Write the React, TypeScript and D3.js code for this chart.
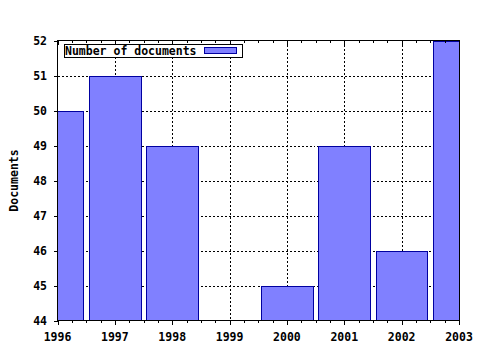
import React from "react";
import * as d3 from "d3";

const years = [1996, 1997, 1998, 1999, 2000, 2001, 2002, 2003];
const documents = [50, 51, 49, 44, 45, 49, 46, 52];
const yTicks = [44, 45, 46, 47, 48, 49, 50, 51, 52];
const seriesName = "Number of documents";
const yTitle = "Documents";

const W = 480, H = 350;
const L = 57.5, R = 459, T = 40.5, B = 320.5;
const FONT = "'DejaVu Sans Mono', 'Liberation Mono', monospace";
const FILL = "#8080ff";
const STROKE = "#0000a0";

export default function App() {
  const x = d3.scaleLinear().domain([1996, 2003]).range([L, R]);
  const y = d3.scaleLinear().domain([44, 52]).range([B, T]);
  const step = x(1997) - x(1996);
  const bw = step * 0.9;
  const minor: number[] = [];
  for (let i = 0; i < years.length - 1; i++) {
    for (let k = 1; k < 4; k++) minor.push(years[i] + k / 4);
  }
  return (
    <svg width={W} height={H} style={{ position: "absolute", left: 0, top: 0, background: "#fff" }}>
      <defs>
        <clipPath id="plot">
          <rect x={L} y={T} width={R - L} height={B - T} />
        </clipPath>
      </defs>
      <rect x={0} y={0} width={W} height={H} fill="#fff" />
      {/* grid */}
      <g stroke="#000" strokeWidth={1} strokeDasharray="2,2" shapeRendering="crispEdges">
        {yTicks.slice(1, -1).map((t) => (
          <line key={"gy" + t} x1={L} x2={R} y1={Math.round(y(t)) + 0.5} y2={Math.round(y(t)) + 0.5} />
        ))}
        {years.slice(1, -1).map((t) => (
          <line key={"gx" + t} x1={Math.round(x(t)) + 0.5} x2={Math.round(x(t)) + 0.5} y1={T} y2={B} />
        ))}
      </g>
      {/* bars */}
      <g clipPath="url(#plot)" shapeRendering="crispEdges">
        {years.map((yr, i) => {
          const v = documents[i];
          if (v <= 44) return null;
          const x0 = Math.round(x(yr) - bw / 2) + 0.5;
          const x1 = Math.round(x(yr) + bw / 2) + 0.5;
          const y0 = Math.round(y(v)) + 0.5;
          return (
            <rect key={yr} x={x0} y={y0} width={x1 - x0} height={B - y0} fill={FILL} stroke={STROKE} strokeWidth={1} />
          );
        })}
      </g>
      {/* frame */}
      <rect x={L} y={T} width={R - L} height={B - T} fill="none" stroke="#000" strokeWidth={1} shapeRendering="crispEdges" />
      {/* ticks */}
      <g stroke="#000" strokeWidth={1} shapeRendering="crispEdges">
        {years.map((t) => (
          <g key={"tx" + t}>
            <line x1={Math.round(x(t)) + 0.5} x2={Math.round(x(t)) + 0.5} y1={B} y2={B + 4} />
            <line x1={Math.round(x(t)) + 0.5} x2={Math.round(x(t)) + 0.5} y1={T} y2={T + 4} />
          </g>
        ))}
        {minor.map((t) => (
          <g key={"mx" + t}>
            <line x1={Math.round(x(t)) + 0.5} x2={Math.round(x(t)) + 0.5} y1={B} y2={B + 2} />
            <line x1={Math.round(x(t)) + 0.5} x2={Math.round(x(t)) + 0.5} y1={T} y2={T + 2} />
          </g>
        ))}
        {yTicks.map((t) => (
          <line key={"ty" + t} x1={L - 4} x2={L} y1={Math.round(y(t)) + 0.5} y2={Math.round(y(t)) + 0.5} />
        ))}
      </g>
      {/* labels */}
      <g fontFamily={FONT} fontWeight="bold" fontSize={11.5} fill="#000">
        {years.map((t) => (
          <text key={"lx" + t} x={x(t)} y={341} textAnchor="middle">{t}</text>
        ))}
        {yTicks.map((t) => (
          <text key={"ly" + t} x={47} y={y(t) + 4} textAnchor="end">{t}</text>
        ))}
        <text transform={`translate(18,${(T + B) / 2}) rotate(-90)`} textAnchor="middle">{yTitle}</text>
      </g>
      {/* legend */}
      <g shapeRendering="crispEdges">
        <rect x={64.5} y={44.5} width={178} height={13} fill="#fff" stroke="#000" strokeWidth={1} />
        <text x={65} y={55} fontFamily={FONT} fontWeight="bold" fontSize={11.5} fill="#000">{seriesName}</text>
        <rect x={204.5} y={47.5} width={32} height={6} fill={FILL} stroke={STROKE} strokeWidth={1} />
      </g>
    </svg>
  );
}
